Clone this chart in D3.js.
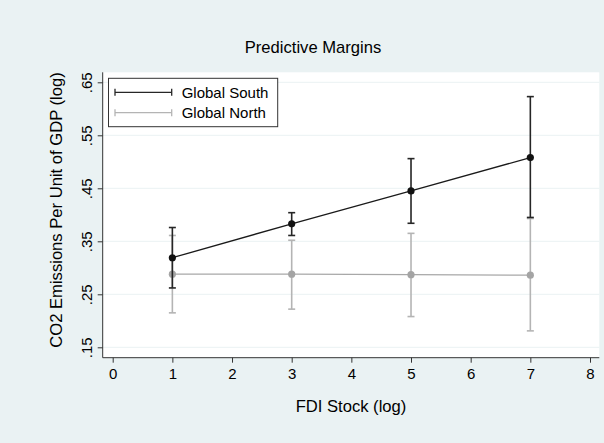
<!DOCTYPE html>
<html>
<head>
<meta charset="utf-8">
<script src="https://cdn.jsdelivr.net/npm/d3@7"></script>
<style>
  body { margin: 0; background: #eaf2f3; }
  text { font-family: "Liberation Sans", Arial, sans-serif; fill: #000; }
</style>
</head>
<body>
<div id="chart"></div>
<script>
// values
var fdi = [1, 3, 5, 7];
var southMargin = [0.319, 0.383, 0.445, 0.508];
var southLow    = [0.262, 0.361, 0.384, 0.395];
var southHigh   = [0.376, 0.404, 0.506, 0.623];
var northMargin = [0.288, 0.288, 0.287, 0.286];
var northLow    = [0.215, 0.222, 0.208, 0.181];
var northHigh   = [0.361, 0.352, 0.365, 0.393];
var xTicks = [0, 1, 2, 3, 4, 5, 6, 7, 8];
var yTicks = [0.15, 0.25, 0.35, 0.45, 0.55, 0.65];
var seriesNames = ["Global South", "Global North"];

var width = 604, height = 443;
var plot = {left: 102.7, right: 599.3, top: 72.3, bottom: 357.7};

var svg = d3.select("#chart").append("svg")
  .attr("width", width)
  .attr("height", height);

svg.append("rect")
  .attr("width", width).attr("height", height)
  .attr("fill", "#eaf2f3");

svg.append("rect")
  .attr("x", plot.left).attr("y", plot.top)
  .attr("width", plot.right - plot.left)
  .attr("height", plot.bottom - plot.top)
  .attr("fill", "#ffffff");

var x = d3.scaleLinear().domain([0, 8]).range([112.7, 590]);
var y = d3.scaleLinear().domain([0.15, 0.65]).range([347.3, 82.3]);

// grid
svg.selectAll(".grid")
  .data(yTicks)
  .enter().append("line")
  .attr("x1", plot.left).attr("x2", plot.right)
  .attr("y1", function(d){ return y(d); })
  .attr("y2", function(d){ return y(d); })
  .attr("stroke", "#eaf2f3")
  .attr("stroke-width", 1);

// axes
var xAxis = svg.append("g")
  .attr("transform", "translate(0," + plot.bottom + ")")
  .call(d3.axisBottom(x).tickValues(xTicks).tickFormat(d3.format("d")).tickSize(5).tickPadding(6).tickSizeOuter(0));
xAxis.select(".domain").attr("d", "M" + plot.left + ",0H" + plot.right);

var yAxis = svg.append("g")
  .attr("transform", "translate(" + plot.left + ",0)")
  .call(d3.axisLeft(y).tickValues(yTicks).tickSize(5).tickSizeOuter(0)
    .tickFormat(function(d){ return d3.format(".2f")(d).replace(/^0/, ""); }));
yAxis.select(".domain").attr("d", "M0," + plot.bottom + "V" + plot.top);

[xAxis, yAxis].forEach(function(a){
  a.selectAll("path, line").attr("stroke", "#333333").attr("stroke-width", 1);
  a.selectAll("text").style("font-size", "15px")
    .style("font-family", '"Liberation Sans", Arial, sans-serif').attr("fill", "#000");
});

yAxis.selectAll(".tick text")
  .attr("x", 0).attr("dy", 0)
  .attr("text-anchor", "middle")
  .attr("transform", "translate(-11,0) rotate(-90)");

// titles
svg.append("text")
  .attr("x", 313).attr("y", 53)
  .attr("text-anchor", "middle")
  .style("font-size", "16.6px")
  .text("Predictive Margins");

svg.append("text")
  .attr("x", (plot.left + plot.right) / 2).attr("y", 411.5)
  .attr("text-anchor", "middle")
  .style("font-size", "16.6px")
  .text("FDI Stock (log)");

svg.append("text")
  .attr("transform", "translate(61.5," + 210 + ") rotate(-90)")
  .attr("text-anchor", "middle")
  .style("font-size", "16.6px")
  .text("CO2 Emissions Per Unit of GDP (log)");

// series
function drawSeries(mid, lo, hi, lineColor, barColor, dotColor) {
  var g = svg.append("g");
  var rows = fdi.map(function(v, i){ return {x: v, m: mid[i], lo: lo[i], hi: hi[i]}; });

  g.append("path")
    .datum(rows)
    .attr("fill", "none")
    .attr("stroke", lineColor)
    .attr("stroke-width", 1.3)
    .attr("d", d3.line().x(function(d){ return x(d.x); }).y(function(d){ return y(d.m); }));

  g.selectAll(".stem").data(rows).enter().append("line")
    .attr("x1", function(d){ return x(d.x); }).attr("x2", function(d){ return x(d.x); })
    .attr("y1", function(d){ return y(d.lo); }).attr("y2", function(d){ return y(d.hi); })
    .attr("stroke", barColor).attr("stroke-width", 1.6);

  ["lo", "hi"].forEach(function(k){
    g.selectAll(".cap" + k).data(rows).enter().append("line")
      .attr("x1", function(d){ return x(d.x) - 3.5; }).attr("x2", function(d){ return x(d.x) + 3.5; })
      .attr("y1", function(d){ return y(d[k]); }).attr("y2", function(d){ return y(d[k]); })
      .attr("stroke", barColor).attr("stroke-width", 1.6);
  });

  g.selectAll(".dot").data(rows).enter().append("circle")
    .attr("cx", function(d){ return x(d.x); })
    .attr("cy", function(d){ return y(d.m); })
    .attr("r", 3.6)
    .attr("fill", dotColor);
}

drawSeries(northMargin, northLow, northHigh, "#a8a8a8", "#b4b4b4", "#a4a4a4");
drawSeries(southMargin, southLow, southHigh, "#1a1a1a", "#262626", "#111111");

// legend
var legend = svg.append("g");
legend.append("rect")
  .attr("x", 108.5).attr("y", 78.3)
  .attr("width", 169.2).attr("height", 48.4)
  .attr("fill", "#ffffff")
  .attr("stroke", "#333333").attr("stroke-width", 1);

var legendColors = ["#262626", "#b4b4b4"];
seriesNames.forEach(function(name, i){
  var ly = 92.3 + i * 20.4;
  legend.append("line")
    .attr("x1", 115).attr("x2", 171.7).attr("y1", ly).attr("y2", ly)
    .attr("stroke", legendColors[i]).attr("stroke-width", 1.3);
  legend.append("line")
    .attr("x1", 115).attr("x2", 115).attr("y1", ly - 3.5).attr("y2", ly + 3.5)
    .attr("stroke", legendColors[i]).attr("stroke-width", 1.3);
  legend.append("line")
    .attr("x1", 171.7).attr("x2", 171.7).attr("y1", ly - 3.5).attr("y2", ly + 3.5)
    .attr("stroke", legendColors[i]).attr("stroke-width", 1.3);
  legend.append("text")
    .attr("x", 181.7).attr("y", ly + 5.3)
    .style("font-size", "15px")
    .text(name);
});
</script>
</body>
</html>
